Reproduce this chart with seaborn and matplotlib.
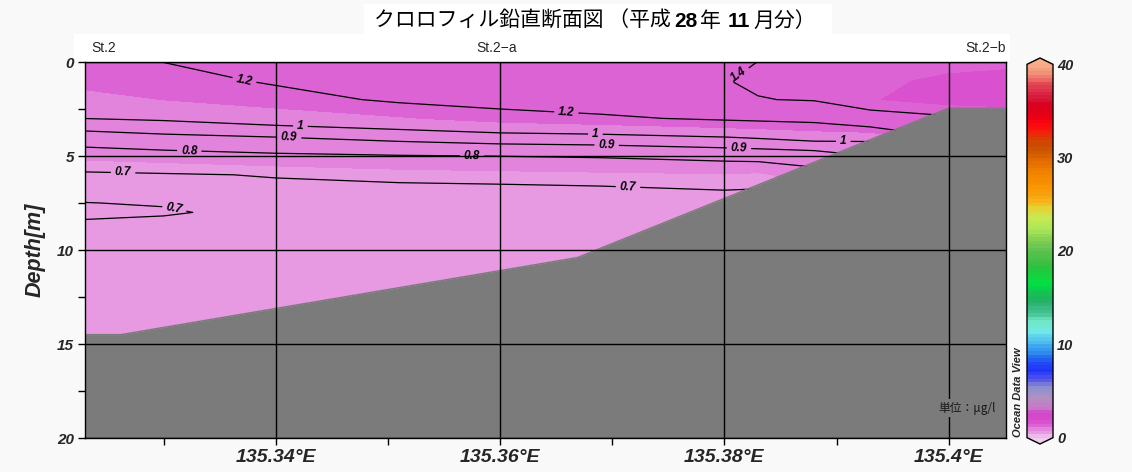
import numpy as np
import matplotlib
matplotlib.use("Agg")
import matplotlib.pyplot as plt
import seaborn as sns
from matplotlib.colors import LinearSegmentedColormap, ListedColormap, Normalize
from matplotlib.ticker import FixedLocator
from matplotlib.offsetbox import TextArea, HPacker, AnnotationBbox
from matplotlib.patches import Rectangle
from matplotlib.transforms import blended_transform_factory

# ---- data (lon in deg E, depth in m, chl in ug/l) ----
lons = [135.3230, 135.3300, 135.3400, 135.3510, 135.3600, 135.3690,
        135.3800, 135.3830, 135.3880, 135.3930, 135.4000, 135.4051]
depths = [0, 1, 2, 3, 4, 5, 6, 7, 7.5, 8, 8.5, 9, 10, 12, 15]

# one profile per longitude, values at the depths above
profiles = [
    [1.180, 1.138, 1.081, 1.001, 0.850, 0.755, 0.690, 0.685, 0.701, 0.715, 0.695, 0.685, 0.670, 0.650, 0.630],
    [1.201, 1.156, 1.112, 1.016, 0.877, 0.765, 0.695, 0.688, 0.696, 0.706, 0.690, 0.680, 0.665, 0.645, 0.625],
    [1.260, 1.215, 1.154, 1.059, 0.899, 0.783, 0.703, 0.685, 0.684, 0.683, 0.681, 0.678, 0.670, 0.650, 0.630],
    [1.300, 1.255, 1.220, 1.100, 0.930, 0.795, 0.718, 0.675, 0.672, 0.670, 0.668, 0.665, 0.660, 0.645, 0.630],
    [1.330, 1.290, 1.250, 1.150, 0.955, 0.801, 0.724, 0.676, 0.672, 0.670, 0.668, 0.665, 0.660, 0.650, 0.640],
    [1.360, 1.320, 1.270, 1.180, 0.966, 0.807, 0.730, 0.680, 0.675, 0.672, 0.670, 0.668, 0.665, 0.660, 0.650],
    [1.370, 1.395, 1.300, 1.220, 0.998, 0.824, 0.736, 0.692, 0.690, 0.688, 0.686, 0.684, 0.680, 0.670, 0.660],
    [1.401, 1.420, 1.395, 1.230, 1.012, 0.830, 0.730, 0.690, 0.685, 0.683, 0.681, 0.680, 0.675, 0.670, 0.660],
    [1.430, 1.440, 1.410, 1.245, 1.042, 0.843, 0.770, 0.740, 0.730, 0.720, 0.710, 0.700, 0.690, 0.680, 0.670],
    [1.430, 1.460, 1.475, 1.340, 1.030, 0.900, 0.820, 0.780, 0.760, 0.750, 0.740, 0.730, 0.720, 0.700, 0.690],
    [1.450, 1.500, 1.520, 1.380, 1.200, 1.000, 0.900, 0.850, 0.830, 0.810, 0.800, 0.790, 0.780, 0.750, 0.720],
    [1.455, 1.520, 1.530, 1.400, 1.220, 1.020, 0.920, 0.870, 0.850, 0.830, 0.820, 0.810, 0.800, 0.770, 0.740],
]

# sea bottom
bottom_lon = [135.3230, 135.3262, 135.3669, 135.4000, 135.4051]
bottom_depth = [14.5, 14.5, 10.4, 2.45, 2.45]

stations = ["St.2", "St.2\u2212a", "St.2\u2212b"]
station_lon = [135.3230, 135.3597, 135.4051]

contour_levels = [0.7, 0.8, 0.9, 1.0, 1.2, 1.4]
contour_fmt = {0.7: "0.7", 0.8: "0.8", 0.9: "0.9", 1.0: "1", 1.2: "1.2", 1.4: "1.4"}

x_ticks = [135.34, 135.36, 135.38, 135.40]
x_minor = [135.33, 135.35, 135.37, 135.39]
y_ticks = [0, 5, 10, 15, 20]
y_minor = [2.5, 7.5, 12.5, 17.5]
cbar_ticks = [0, 10, 20, 30, 40]

# ---- style ----
sns.set_theme(style="ticks")
plt.rcParams["font.family"] = ["Liberation Sans", "Noto Sans CJK JP"]

# Ocean Data View style palette, 0-40
odv_anchors = [
    (0.0, "#f0c8f0"), (0.55, "#e592e0"), (0.93, "#e07ad9"), (1.3, "#dc60d3"),
    (1.67, "#d84ccd"), (2.5, "#d048c8"), (3.2, "#c878c8"), (4.2, "#b090c0"),
    (5.3, "#9090d0"), (6.0, "#6060e0"), (7.1, "#2030ff"), (8.1, "#2050f0"),
    (9.2, "#3090f0"), (10.3, "#50c0f0"), (11.3, "#70e8e8"), (12.4, "#70e8c8"),
    (13.4, "#40c090"), (14.8, "#20b060"), (16.6, "#00e040"), (18.3, "#30c040"),
    (20.1, "#60c050"), (21.2, "#80d050"), (22.5, "#b0e858"), (23.6, "#c8e850"),
    (24.7, "#e8d030"), (25.7, "#f8a810"), (27.2, "#f89000"), (28.6, "#f08000"),
    (29.9, "#e06800"), (31.0, "#c85000"), (32.1, "#d84000"), (33.1, "#ff1010"),
    (34.2, "#f00010"), (35.7, "#d80020"), (36.7, "#d82040"), (37.8, "#e04050"),
    (38.8, "#f08070"), (40.0, "#f8b088"),
]
smooth = LinearSegmentedColormap.from_list("odv", [(v / 40, c) for v, c in odv_anchors])
nsteps = 108
levels = np.linspace(0, 40, nsteps + 1)
mids = (levels[:-1] + levels[1:]) / 2 / 40
cmap = ListedColormap(smooth(mids))
cmap.set_over("#f8b088")
cmap.set_under("#f0c8f0")
norm = Normalize(0, 40)

W, H = 1132, 472
fig = plt.figure(figsize=(W / 100, H / 100), dpi=100, facecolor="#f9f9f9")
ax = fig.add_axes([85 / W, (H - 438) / H, (1006 - 85) / W, (438 - 62) / H])

# white bands behind title and station names
fig.add_artist(Rectangle((364 / W, (H - 34) / H), 468 / W, 30 / H, transform=fig.transFigure,
                         facecolor="white", edgecolor="none", zorder=-1))
fig.add_artist(Rectangle((74 / W, (H - 62) / H), 936 / W, 28 / H, transform=fig.transFigure,
                         facecolor="white", edgecolor="none", zorder=-1))

chl = np.array(profiles).T
ax.contourf(lons, depths, chl, levels=levels, cmap=cmap, norm=norm, zorder=1)
cs = ax.contour(lons, depths, chl, levels=contour_levels, colors="black",
                linewidths=0.9, zorder=1.2)

# sea bottom
ax.fill_between(bottom_lon, bottom_depth, 20, color="#7b7b7b", lw=0, zorder=1.5)
sns.lineplot(x=bottom_lon, y=bottom_depth, color="#7b7b7b", lw=1, ax=ax, zorder=1.6)

ax.set_xlim(lons[0], lons[-1])
ax.set_ylim(20, 0)

label_spots = [(135.3372, 1.0), (135.3659, 2.75), (135.3422, 3.45), (135.3685, 3.8),
               (135.3906, 4.2), (135.3412, 4.1), (135.3695, 4.45), (135.3813, 4.6),
               (135.3323, 4.6), (135.3575, 5.0), (135.3264, 5.8), (135.3714, 6.7),
               (135.3310, 7.7), (135.3811, 0.55)]
labels = ax.clabel(cs, fmt=contour_fmt, fontsize=8.5, inline=True, inline_spacing=4,
                   manual=label_spots)
for t in labels:
    t.set_fontweight("bold")
    t.set_fontstyle("italic")

ax.xaxis.set_major_locator(FixedLocator(x_ticks))
ax.xaxis.set_minor_locator(FixedLocator(x_minor))
ax.yaxis.set_major_locator(FixedLocator(y_ticks))
ax.yaxis.set_minor_locator(FixedLocator(y_minor))
ax.set_xticklabels([f"{v:g}°E" for v in x_ticks])
ax.set_yticklabels([str(v) for v in y_ticks])
for lab in ax.get_xticklabels():
    lab.set_fontsize(14)
    lab.set_fontweight("bold")
    lab.set_fontstyle("italic")
for lab in ax.get_yticklabels():
    lab.set_fontsize(11)
    lab.set_fontweight("bold")
    lab.set_fontstyle("italic")
ax.tick_params(which="both", direction="out", length=5, width=1, color="black", pad=3)
ax.set_axisbelow(False)
ax.grid(True, which="major", color="black", lw=1)
for s in ax.spines.values():
    s.set_color("black")
    s.set_linewidth(1)
ax.set_xlabel("")
ax.set_ylabel("")

fig.text(35 / W, (H - 250) / H, "Depth[m]", rotation=90, ha="center", va="center",
         fontsize=15.5, fontweight="bold", fontstyle="italic")

# station names along the top
trans = blended_transform_factory(ax.transData, ax.transAxes)
for name, lon, ha in zip(stations, station_lon, ["left", "center", "right"]):
    dx = 0.0006 if ha == "left" else 0.0
    ax.text(lon + dx, 1.018, name, transform=trans, ha=ha, va="bottom", fontsize=10)

fig.text(996 / W, (H - 408) / H, "単位：μg/l", ha="right", va="center",
         fontsize=8.5, color="#1a1a1a", family=["Noto Sans CJK JP", "Liberation Sans"],
         bbox=dict(facecolor="#7b7b7b", edgecolor="none", pad=1.5))

# title with bold numerals
cjk = dict(family=["Noto Sans CJK JP"], size=15, color="black")
num = dict(family=["Liberation Sans"], size=15, weight="bold", color="black")
parts = [("クロロフィル鉛直断面図 （平成", cjk), ("28", num), ("年 ", cjk), ("11", num), ("月分）", cjk)]
box = HPacker(children=[TextArea(s, textprops=p) for s, p in parts], align="baseline", pad=0, sep=2)
fig.add_artist(AnnotationBbox(box, (595 / W, (H - 21) / H), xycoords="figure fraction",
                              frameon=False, box_alignment=(0.5, 0.5)))

# colour bar
cax = fig.add_axes([1027 / W, (H - 444) / H, 26 / W, (444 - 58) / H])
sm = plt.cm.ScalarMappable(norm=norm, cmap=cmap)
cbar = fig.colorbar(sm, cax=cax, extend="both", extendfrac=0.017, ticks=cbar_ticks)
cbar.outline.set_edgecolor("black")
cbar.outline.set_linewidth(1)
cax.tick_params(length=0, pad=3)
for lab in cax.get_yticklabels():
    lab.set_fontsize(10.5)
    lab.set_fontweight("bold")
    lab.set_fontstyle("italic")
fig.text(1018 / W, (H - 437) / H, "Ocean Data View", rotation=90, ha="center", va="bottom",
         fontsize=8, fontweight="bold", fontstyle="italic")

fig.savefig("out.png", dpi=100, facecolor=fig.get_facecolor())
